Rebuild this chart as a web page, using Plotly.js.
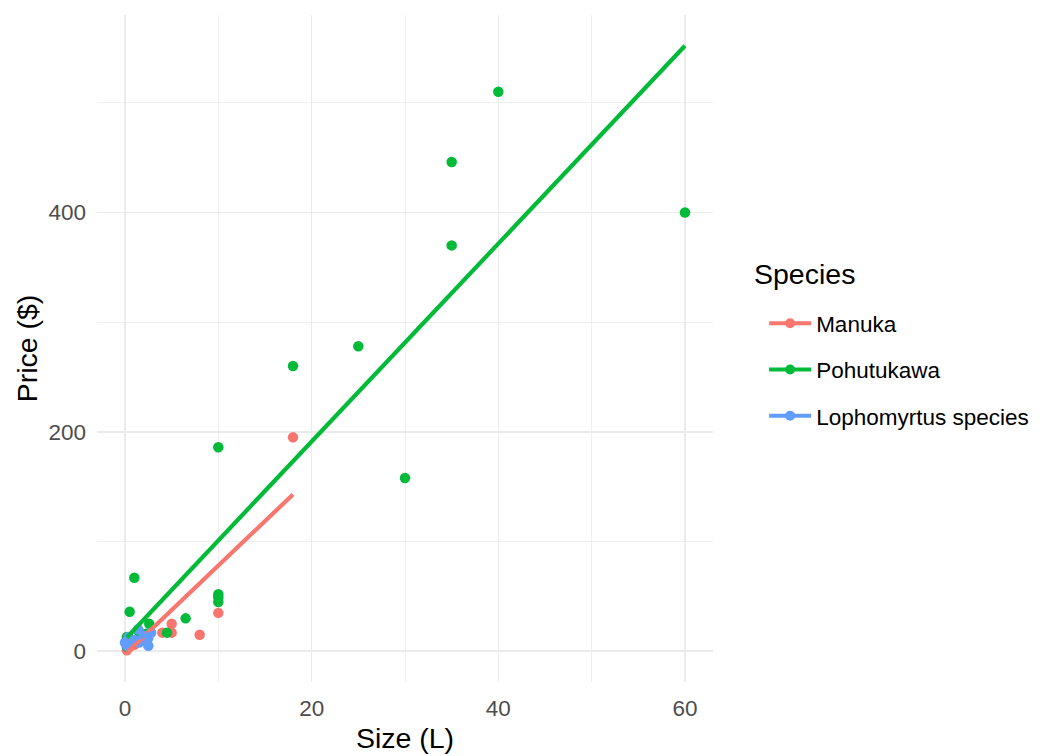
<!DOCTYPE html>
<html>
<head>
<meta charset="utf-8">
<script src="https://cdn.plot.ly/plotly-3.0.1.min.js"></script>
<style>html,body{margin:0;padding:0;background:#fff;}#chart{width:1046px;height:756px;}</style>
</head>
<body>
<div id="chart"></div>
<script>
// Species names and colours
const species = ["Manuka", "Pohutukawa", "Lophomyrtus species"];
const colors = ["#F8766D", "#00BA38", "#619CFF"];

// Observations: size (L) and price ($)
const manukaSize  = [0.2, 0.5, 1, 2, 4, 5, 5, 8, 10, 18];
const manukaPrice = [1, 4, 6, 10, 17, 17, 25, 15, 35, 195];

const pohuSize  = [0.2, 0.2, 0.5, 1, 1.5, 2.3, 2.6, 4.5, 6.5, 10, 10, 10, 10, 18, 25, 30, 35, 35, 40, 60];
const pohuPrice = [4, 13, 36, 67, 18, 16, 25, 17, 30, 45, 49, 52, 186, 260, 278, 158, 370, 446, 510, 400];

const lophoSize  = [0, 0.2, 0.4, 1, 1.4, 1.5, 2, 2.5, 2.5, 2.8];
const lophoPrice = [8, 5, 13, 10, 20, 8, 14, 5, 12, 17];

// Fitted linear-model lines (endpoints)
const manukaFitX = [0.2, 18];
const manukaFitY = [-1.4, 143];
const pohuFitX = [0.2, 60];
const pohuFitY = [12.6, 552];
const lophoFitX = [0, 3];
const lophoFitY = [8, 17];

const legendTitle = "Species";

const sizes = [manukaSize, pohuSize, lophoSize];
const prices = [manukaPrice, pohuPrice, lophoPrice];
const fitXs = [manukaFitX, pohuFitX, lophoFitX];
const fitYs = [manukaFitY, pohuFitY, lophoFitY];

const traces = [];
for (let i = 0; i < 3; i++) {
  traces.push({
    type: "scatter", mode: "markers", x: sizes[i], y: prices[i],
    marker: {color: colors[i], size: 10.5}, showlegend: false, hoverinfo: "x+y"
  });
}
for (let i = 0; i < 3; i++) {
  traces.push({
    type: "scatter", mode: "lines", x: fitXs[i], y: fitYs[i],
    line: {color: colors[i], width: 4.2}, showlegend: false
  });
}
for (let i = 0; i < 3; i++) {
  traces.push({
    type: "scatter", mode: "lines+markers", x: [null], y: [null],
    name: species[i], legendgroup: "g" + i,
    line: {color: colors[i], width: 4.2}, marker: {color: colors[i], size: 10}
  });
}

const grid = "#EBEBEB";
const layout = {
  width: 1046, height: 756,
  margin: {l: 97, r: 324, t: 15, b: 74},
  paper_bgcolor: "#ffffff", plot_bgcolor: "#ffffff",
  font: {family: "Liberation Sans, Arial, sans-serif", color: "#000"},
  xaxis: {
    range: [-3, 63], tickvals: [0, 20, 40, 60], ticktext: ["0", "20", "40", "60"],
    showgrid: true, gridcolor: grid, gridwidth: 1.6, zeroline: false, showline: false,
    minor: {tickvals: [10, 30, 50], showgrid: true, gridcolor: grid, gridwidth: 0.8},
    ticks: "", ticklabelstandoff: 10,
    tickfont: {size: 22.5, color: "#4D4D4D"},
    title: {text: "Size (L)", font: {size: 28.5, color: "#000"}, standoff: 8},
    automargin: false
  },
  yaxis: {
    range: [-28, 580], tickvals: [0, 200, 400], ticktext: ["0", "200", "400"],
    showgrid: true, gridcolor: grid, gridwidth: 1.6, zeroline: false, showline: false,
    minor: {tickvals: [100, 300, 500], showgrid: true, gridcolor: grid, gridwidth: 0.8},
    ticks: "", ticklabelstandoff: 10,
    tickfont: {size: 22.5, color: "#4D4D4D"},
    title: {text: "Price ($)", font: {size: 28.5, color: "#000"}, standoff: 2},
    automargin: false
  },
  legend: {
    x: 1.083, xanchor: "left", y: 0.5695, yanchor: "top",
    font: {size: 22.5, color: "#000"},
    tracegroupgap: 14, itemwidth: 42, bgcolor: "rgba(0,0,0,0)"
  },
  annotations: [{
    text: legendTitle, xref: "paper", yref: "paper",
    x: (762 - 97) / 625, xanchor: "left", y: (682 - 274) / 667, yanchor: "middle",
    showarrow: false, font: {size: 28.5, color: "#000"}
  }],
  showlegend: true
};

Plotly.newPlot("chart", traces, layout, {displayModeBar: false, staticPlot: true});
</script>
</body>
</html>
